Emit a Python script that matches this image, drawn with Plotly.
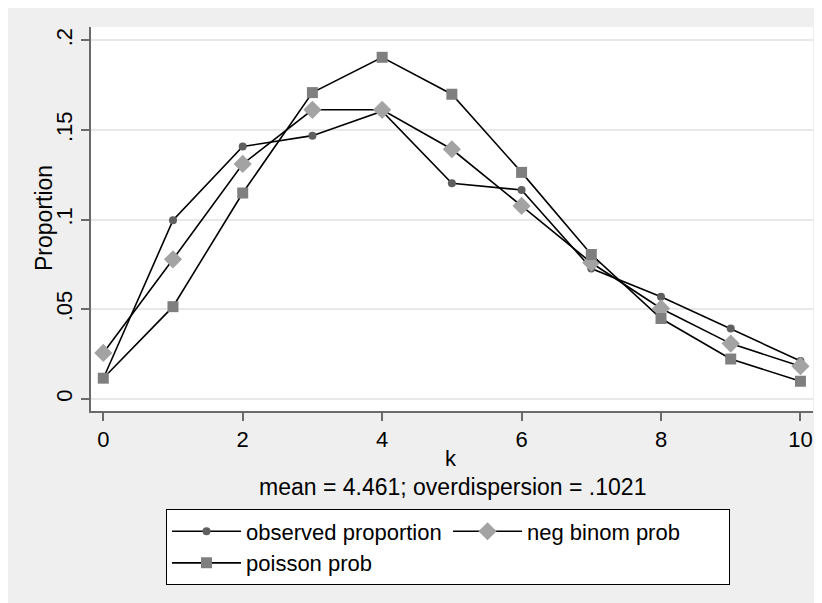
import plotly.graph_objects as go

k = [0, 1, 2, 3, 4, 5, 6, 7, 8, 9, 10]
observed = [0.0114, 0.0997, 0.1408, 0.1469, 0.1605, 0.1203, 0.1166, 0.0728, 0.0570, 0.0393, 0.0212]
negbin = [0.0257, 0.0779, 0.1311, 0.1613, 0.1613, 0.1393, 0.1077, 0.0760, 0.0505, 0.0309, 0.0183]
poisson = [0.0116, 0.0515, 0.1149, 0.1709, 0.1906, 0.1700, 0.1264, 0.0806, 0.0449, 0.0223, 0.0099]
x_ticks = [0, 2, 4, 6, 8, 10]
y_ticks = [0, 0.05, 0.1, 0.15, 0.2]
y_ticktext = ["0", ".05", ".1", ".15", ".2"]

FONT = "Liberation Sans, Arial, Helvetica, sans-serif"
W, H = 822, 603
# plot area in figure coords (page has 8px body margin)
PL, PR, PT, PB = 83, 804.7, 19.3, 402.7
PW, PH = PR - PL, PB - PT


def px(x):
    return (x - PL) / PW


def py(y):
    return (PB - y) / PH


fig = go.Figure()
fig.add_trace(go.Scatter(x=k, y=observed, mode="lines+markers", name="observed proportion",
                         line=dict(color="black", width=1.6),
                         marker=dict(symbol="circle", size=8, color="#5f5f5f")))
fig.add_trace(go.Scatter(x=k, y=negbin, mode="lines+markers", name="neg binom prob",
                         line=dict(color="black", width=1.6),
                         marker=dict(symbol="diamond", size=14, color="#a3a3a3")))
fig.add_trace(go.Scatter(x=k, y=poisson, mode="lines+markers", name="poisson prob",
                         line=dict(color="black", width=1.6),
                         marker=dict(symbol="square", size=11, color="#7f7f7f")))

fig.update_layout(
    width=W, height=H,
    margin=dict(l=PL, r=W - PR, t=PT, b=H - PB, autoexpand=False),
    paper_bgcolor="#efefef",
    plot_bgcolor="white",
    font=dict(family=FONT, size=22, color="black"),
    showlegend=True,
    legend=dict(orientation="h", x=px(158), xanchor="left", y=py(501), yanchor="top",
                bgcolor="white", bordercolor="black", borderwidth=1,
                font=dict(size=22), entrywidth=197, entrywidthmode="pixels",
                itemwidth=69, tracegroupgap=0),
    annotations=[
        dict(text="k", xref="paper", yref="paper", x=px(443), y=py(450),
             showarrow=False, font=dict(size=22), xanchor="center", yanchor="middle"),
        dict(text="mean = 4.461; overdispersion = .1021", xref="paper", yref="paper",
             x=px(444), y=py(479),
             showarrow=False, font=dict(size=23), xanchor="center", yanchor="middle"),
        dict(text="Proportion", xref="paper", yref="paper", x=px(36), y=py(210),
             showarrow=False, font=dict(size=23), textangle=-90, xanchor="center", yanchor="middle"),
    ],
)
fig.update_xaxes(range=[-0.176, 10.18], tickvals=x_ticks, showgrid=False, zeroline=False,
                 showline=True, linecolor="#6a6a6a", linewidth=1.5, automargin=False,
                 ticks="outside", ticklen=8, tickcolor="#6a6a6a", tickwidth=1.5,
                 ticklabelstandoff=0)
fig.update_yaxes(range=[-0.0067, 0.2075], tickvals=y_ticks, ticktext=y_ticktext, tickangle=-90,
                 showgrid=True, gridcolor="#e8e8e8", gridwidth=1.5, zeroline=False,
                 showline=True, linecolor="#6a6a6a", linewidth=1.5, automargin=False,
                 ticks="outside", ticklen=8, tickcolor="#6a6a6a", tickwidth=1.5,
                 ticklabelstandoff=0)

fig.write_html("out.html")
